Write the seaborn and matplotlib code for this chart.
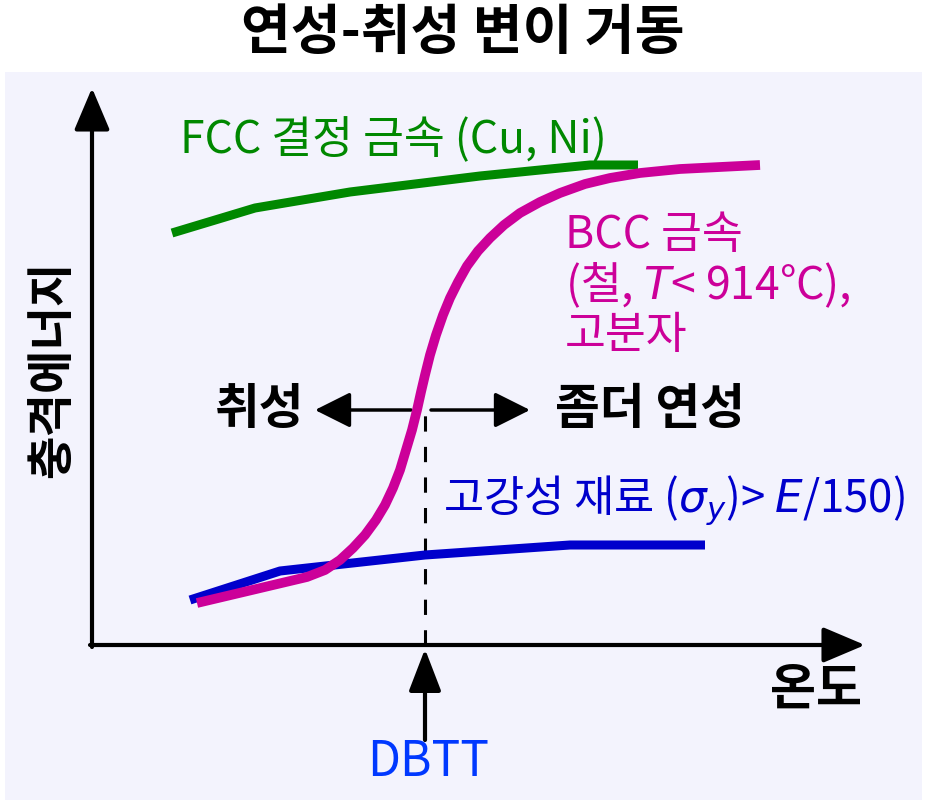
import numpy as np
import matplotlib
matplotlib.use("Agg")
import matplotlib.pyplot as plt
import seaborn as sns

sns.set_theme(style="white")
plt.rcParams['font.family'] = ['Noto Sans CJK KR', 'DejaVu Sans']
plt.rcParams['mathtext.fontset'] = 'dejavusans'
plt.rcParams['text.color'] = 'black'

# schematic curves (temperature vs impact energy, arbitrary units)
fcc_t = [80, 163, 258, 388, 498, 546]
fcc_e = [412, 437, 453, 469, 480, 480]

bcc_t = [105, 215, 233, 248, 261, 273, 284, 293, 301, 308, 314, 320, 325, 329, 333, 338,
         344, 351, 358, 366, 375, 386, 398, 412, 428, 448, 468, 493, 518, 548, 588, 628, 668]
bcc_e = [42, 68, 75, 85, 97, 110, 125, 140, 157, 175, 195, 215, 235, 253, 270, 290,
         310, 330, 347, 363, 379, 394, 407, 420, 432, 443, 452, 461, 467, 472, 476, 478, 480]

hs_t = [98, 188, 333, 478, 613]
hs_e = [45, 74, 90, 100, 100]

dbtt = 333
title = "연성-취성 변이 거동"

green = "#008800"
magenta = "#cc0099"
blue = "#0000cc"

fig = plt.figure(figsize=(9.32, 8.08), dpi=100)
fig.patch.set_facecolor("white")
ax = fig.add_axes([5 / 932, 8 / 808, 917 / 932, 728 / 808])
ax.set_facecolor("#f3f3fd")
ax.set_xlim(-87, 830)
ax.set_ylim(-155, 573)
for s in ax.spines.values():
    s.set_visible(False)
ax.set_xticks([])
ax.set_yticks([])

# axes with arrows
head = "-|>,head_length=1.3,head_width=0.55"
ax.annotate("", xy=(0, 557), xytext=(0, -2),
            arrowprops=dict(arrowstyle=head, mutation_scale=20, lw=3, color="black",
                            shrinkA=0, shrinkB=0))
ax.annotate("", xy=(773, 0), xytext=(-2, 0),
            arrowprops=dict(arrowstyle=head, mutation_scale=20, lw=3, color="black",
                            shrinkA=0, shrinkB=0))

# curves
sns.lineplot(x=fcc_t, y=fcc_e, sort=False, color=green, lw=6.5, ax=ax,
             solid_capstyle="butt", zorder=3)
sns.lineplot(x=hs_t, y=hs_e, sort=False, color=blue, lw=6.5, ax=ax,
             solid_capstyle="butt", zorder=3)
sns.lineplot(x=bcc_t, y=bcc_e, sort=False, color=magenta, lw=7, ax=ax,
             solid_capstyle="butt", solid_joinstyle="round", zorder=4)

# DBTT marker
ax.plot([dbtt, dbtt], [0, 235], color="black", lw=2.2, ls=(0, (5, 5)), zorder=2)
ax.annotate("", xy=(dbtt, -4), xytext=(dbtt, -95),
            arrowprops=dict(arrowstyle="-|>,head_length=1.3,head_width=0.5",
                            mutation_scale=20, lw=3, color="black", shrinkA=0, shrinkB=0))
ax.text(dbtt + 3, -117, "DBTT", color="#0038ff", fontsize=34.5, ha="center", va="center")

# brittle / ductile arrows
arr = dict(arrowstyle="-|>,head_length=1.1,head_width=0.55", mutation_scale=20,
           lw=2.5, color="black", shrinkA=0, shrinkB=0)
ax.annotate("", xy=(223, 235), xytext=(319, 235), arrowprops=arr)
ax.annotate("", xy=(438, 235), xytext=(339, 235), arrowprops=arr)
ax.text(168, 235, "취성", fontsize=35, fontweight="bold", ha="center", va="center")
ax.text(558, 235, "좀더 연성", fontsize=35, fontweight="bold", ha="center", va="center")

# labels
ax.text(88, 505, "FCC 결정 금속 (Cu, Ni)", color=green, fontsize=32, ha="left", va="center")
ax.text(473, 410, "BCC 금속", color=magenta, fontsize=32, ha="left", va="center")
ax.text(473, 360, "(철, $T$< 914°C),", color=magenta, fontsize=32, ha="left", va="center")
ax.text(473, 310, "고분자", color=magenta, fontsize=32, ha="left", va="center")
ax.text(351, 145, "고강성 재료 ($\\sigma_y$)> $E$/150)", color=blue, fontsize=31.5,
        ha="left", va="center")

ax.text(724, -45, "온도", fontsize=36, fontweight="bold", ha="center", va="center")
ax.text(-40, 276, "충격에너지", fontsize=34, fontweight="bold", ha="center", va="center",
        rotation=90)

fig.text(463 / 932, 1 - 34 / 808, title, fontsize=39, fontweight="bold",
         ha="center", va="center")

fig.savefig("out.png", dpi=100)
